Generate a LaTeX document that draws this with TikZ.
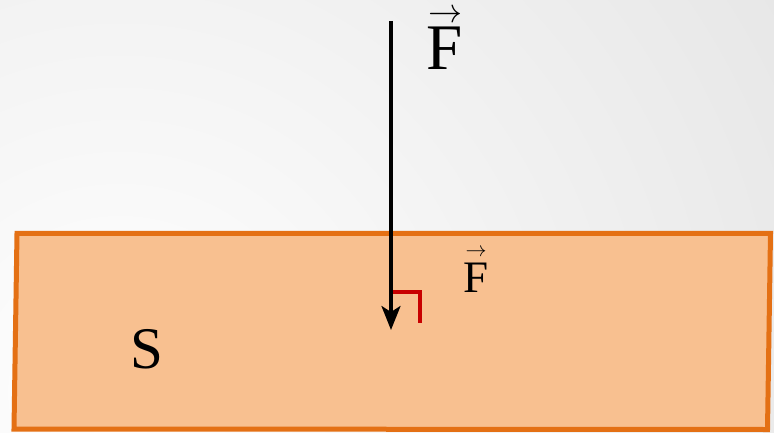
\documentclass[tikz,border=0pt]{standalone}
\usepackage{amsmath}
\usepackage{graphicx}
\usepackage{fontspec}
\setmainfont{Liberation Serif}
\usetikzlibrary{arrows.meta}
\definecolor{SurfaceFill}{RGB}{248,192,144}
\definecolor{SurfaceEdge}{RGB}{228,112,20}
\definecolor{AngleRed}{RGB}{200,0,0}

% F with an arrow over it: #1 raise, #2 arrow width
\newcommand{\arrowF}[2]{\ooalign{F\cr\hidewidth\raisebox{#1}{\resizebox{#2}{!}{$\rightarrow$}}\hidewidth\cr}}

\begin{document}
\begin{tikzpicture}[
    x=1pt,
    y=1pt,
    >={Stealth[length=24pt,width=19pt,inset=6pt]},
    surface/.style={
        draw=SurfaceEdge,
        line width=5pt,
        line join=miter,
        fill=SurfaceFill
    },
    force/.style={
        ->,
        line width=3.3pt,
        draw=black
    },
    rightangle/.style={
        line width=3.2pt,
        draw=AngleRed
    },
    biglabel/.style={
        anchor=base,
        inner sep=0pt,
        font=\fontsize{65}{70}\selectfont
    },
    smalllabel/.style={
        anchor=base,
        inner sep=0pt,
        font=\fontsize{45}{50}\selectfont
    }
]

% background
\useasboundingbox (0,0) rectangle (774,432);
\begin{scope}
    \clip (0,0) rectangle (774,432);
    \shade[inner color=white, outer color=black!11] (120,40) circle (900);
\end{scope}

% surface S
\draw[surface] (17,198.7) -- (770.5,198.7) -- (767.5,2.5) -- (14,3) -- cycle;

\node[smalllabel, font=\fontsize{59}{64}\selectfont] (sname) at (147,64) {S};

% force vector
\coordinate (ftop) at (391,411);
\coordinate (fbottom) at (391,102);
\draw[force] (ftop) -- (fbottom);

\coordinate (astart) at (392.5,140);
\coordinate (acorner) at (420,140);
\coordinate (aend) at (420,109);
\draw[rightangle] (astart) -- (acorner) -- (aend);

\node[biglabel] (fbig) at (445,362) {\arrowF{47.5pt}{34pt}};
\node[smalllabel] (fsmall) at (476,140) {\arrowF{36pt}{21pt}};

\end{tikzpicture}
\end{document}
